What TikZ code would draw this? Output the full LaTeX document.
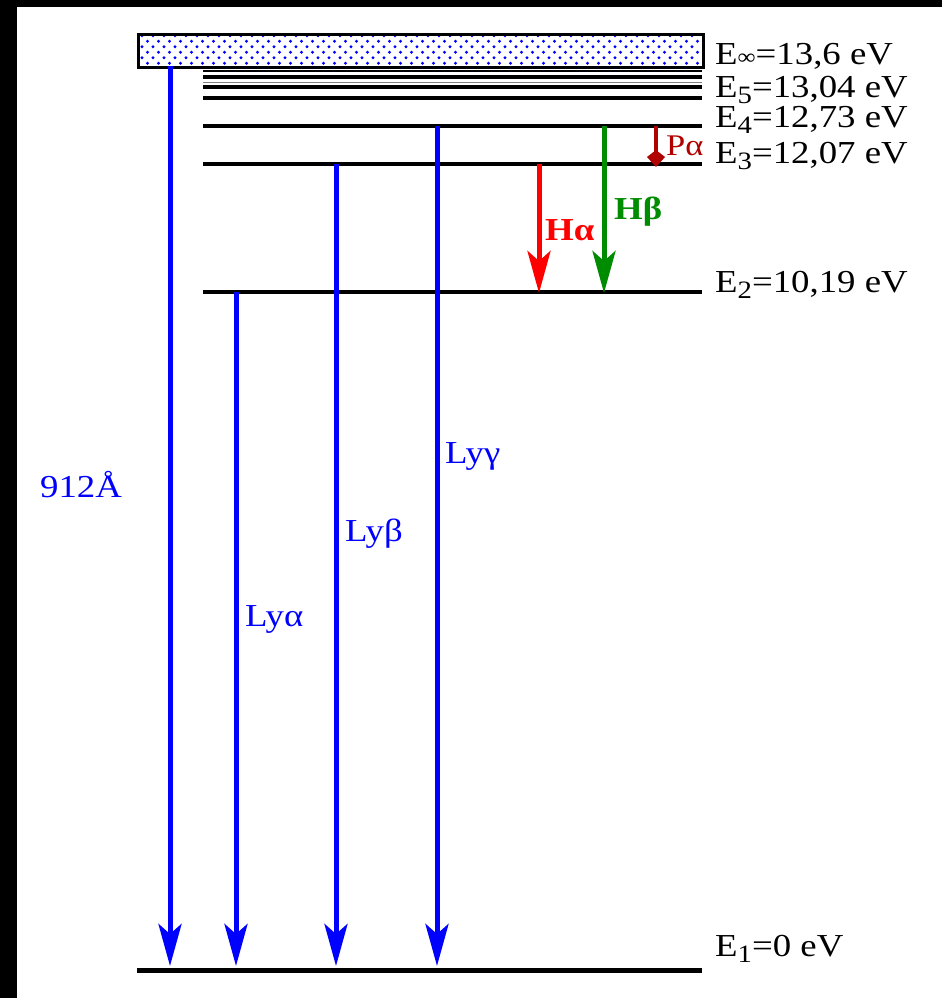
\documentclass[tikz,border=0pt]{standalone}
\usepackage{fontspec}
\setmainfont{Liberation Serif}[FakeStretch=1.15]
\usetikzlibrary{arrows.meta}
\definecolor{lyblue}{RGB}{0,0,255}
\definecolor{hbgreen}{RGB}{0,140,0}
\definecolor{hared}{RGB}{255,0,0}
\definecolor{pared}{RGB}{176,0,0}
\newcommand\lvsub[1]{\raisebox{-6pt}{\fontsize{25}{25}\selectfont #1}}
\tikzset{
  level/.style={line width=4.5pt, black},
  thinlevel/.style={line width=2pt, black},
  lbl/.style={anchor=base west, inner sep=0pt, font=\fontsize{32}{38}\selectfont},
  tran/.style={line width=5pt, -{Stealth[length=42pt,width=23pt,inset=10pt]}},
  smalltran/.style={line width=3.5pt, -{Kite[length=17pt,width=18pt,inset=7pt]}},
}
\begin{document}
\begin{tikzpicture}[x=1pt,y=-1pt]
\useasboundingbox (0,0) rectangle (942,998);
\fill[white] (0,0) rectangle (942,998);
\fill[black] (0,0) rectangle (17,998);
\fill[black] (0,0) rectangle (942,7);

% continuum box
\foreach \r in {0,...,5} {
  \pgfmathsetmacro\yy{35.8+\r*5.5}
  \pgfmathsetmacro\off{mod(\r,2)*5.5}
  \foreach \c in {0,...,50} {
    \fill[lyblue] ({142+\off+\c*11},\yy) circle (1.6);
  }
}
\node[draw=black, line width=3pt, minimum width=565pt, minimum height=33pt, inner sep=0pt, anchor=north west] (cont) at (137,33) {};

% levels
\coordinate (L71l) at (203,71);  \coordinate (L71r) at (702,71);
\coordinate (L77l) at (203,77);  \coordinate (L77r) at (702,77);
\coordinate (L82l) at (203,82);  \coordinate (L82r) at (702,82);
\coordinate (L87l) at (203,87);  \coordinate (L87r) at (702,87);
\coordinate (E5l) at (203,98);   \coordinate (E5r) at (702,98);
\coordinate (E4l) at (203,126);  \coordinate (E4r) at (702,126);
\coordinate (E3l) at (203,164);  \coordinate (E3r) at (702,164);
\coordinate (E2l) at (203,292);  \coordinate (E2r) at (702,292);
\coordinate (E1l) at (137,970);  \coordinate (E1r) at (702,970);
\draw[thinlevel] (L71l) -- (L71r);
\draw[line width=3.5pt] (L77l) -- (L77r);
\draw[line width=1pt, black!50] (L82l) -- (L82r);
\draw[line width=3.5pt] (L87l) -- (L87r);
\draw[level] (E5l) -- (E5r);
\draw[level] (E4l) -- (E4r);
\draw[level] (E3l) -- (E3r);
\draw[level] (E2l) -- (E2r);
\draw[line width=5pt] (E1l) -- (E1r);

% transitions
\coordinate (s912) at (170,66);  \coordinate (e912) at (170,966);
\coordinate (sLa) at (236,292);  \coordinate (eLa) at (236,966);
\coordinate (sLb) at (336,164);  \coordinate (eLb) at (336,966);
\coordinate (sLg) at (437,126);  \coordinate (eLg) at (437,966);
\coordinate (sHa) at (539,164);  \coordinate (eHa) at (539,293);
\coordinate (sHb) at (604,126);  \coordinate (eHb) at (604,293);
\coordinate (sPa) at (656,126);  \coordinate (ePa) at (656,167);
\draw[tran, lyblue] (s912) -- (e912);
\draw[tran, lyblue] (sLa) -- (eLa);
\draw[tran, lyblue] (sLb) -- (eLb);
\draw[tran, lyblue] (sLg) -- (eLg);
\draw[tran, hared] (sHa) -- (eHa);
\draw[tran, hbgreen] (sHb) -- (eHb);
\draw[smalltran, pared] (sPa) -- (ePa);

% energy labels
\node[lbl] (tEinf) at (715,65) {E\raisebox{1pt}{\fontsize{22}{22}\selectfont ∞}=13,6 eV};
\node[lbl] (tE5) at (715,97) {E\lvsub{5}=13,04 eV};
\node[lbl] (tE4) at (715,127) {E\lvsub{4}=12,73 eV};
\node[lbl] (tE3) at (715,163) {E\lvsub{3}=12,07 eV};
\node[lbl] (tE2) at (715,292) {E\lvsub{2}=10,19 eV};
\node[lbl] (tE1) at (715,956) {E\lvsub{1}=0 eV};

% transition labels
\node[lbl, lyblue] (t912) at (40,497) {912Å};
\node[lbl, lyblue] (tLa) at (245,626) {Lyα};
\node[lbl, lyblue] (tLb) at (345,541) {Lyβ};
\node[lbl, lyblue] (tLg) at (445,463) {Lyγ};
\node[lbl, hared, font=\fontsize{32}{38}\selectfont\bfseries] (tHa) at (545,240) {Hα};
\node[lbl, hbgreen, font=\fontsize{32}{38}\selectfont\bfseries] (tHb) at (614,219) {Hβ};
\node[lbl, pared, font=\fontsize{30}{36}\selectfont] (tPa) at (666,155) {Pα};
\end{tikzpicture}
\end{document}
